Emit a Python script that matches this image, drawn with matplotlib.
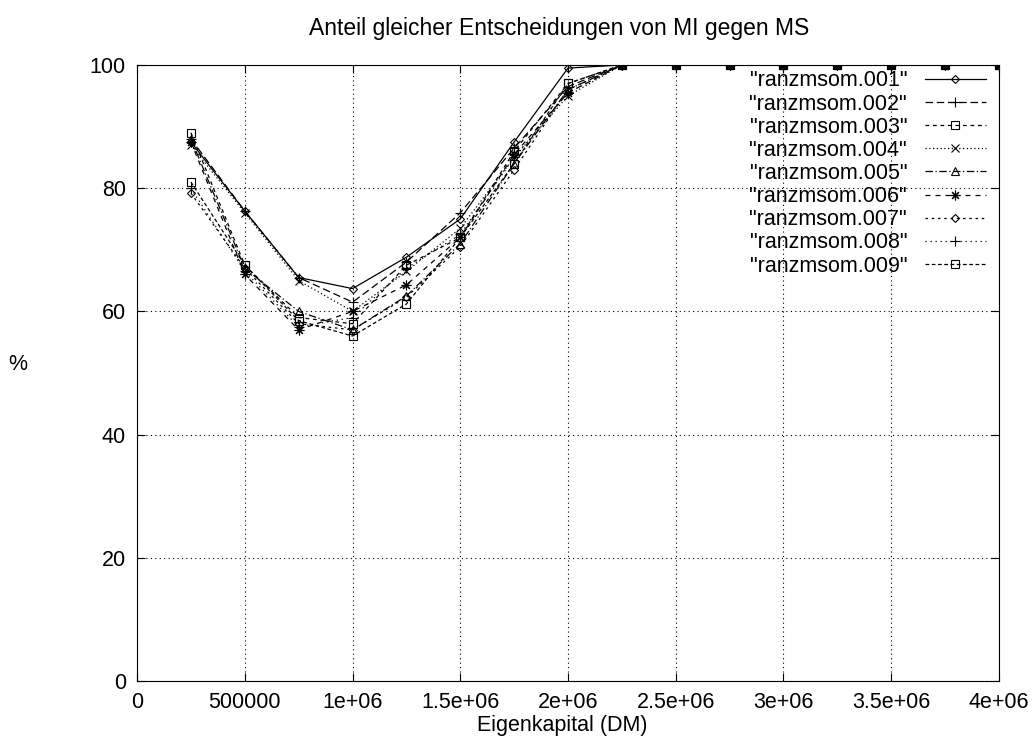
import matplotlib.pyplot as plt

plt.rcParams['font.family'] = ['Liberation Sans', 'DejaVu Sans']

x = [250000, 500000, 750000, 1000000, 1250000, 1500000, 1750000, 2000000,
     2250000, 2500000, 2750000, 3000000, 3250000, 3500000, 3750000, 4000000]

rest = [100] * 8

s001 = [87.5, 76.3, 65.5, 63.7, 68.8, 75.0, 87.5, 99.5] + rest
s002 = [88.0, 76.3, 65.5, 61.5, 68.0, 76.0, 86.5, 96.5] + rest
s003 = [89.0, 67.5, 59.0, 58.0, 67.5, 72.0, 86.0, 97.0] + rest
s004 = [87.0, 76.0, 65.0, 60.0, 66.5, 73.5, 85.0, 95.0] + rest
s005 = [88.0, 67.0, 60.0, 57.0, 62.5, 71.0, 84.0, 96.0] + rest
s006 = [87.5, 66.0, 57.0, 60.0, 64.3, 72.0, 85.5, 95.5] + rest
s007 = [79.2, 67.0, 58.0, 57.0, 62.3, 70.5, 83.0, 96.0] + rest
s008 = [80.0, 66.5, 57.5, 59.0, 67.0, 72.5, 85.0, 95.5] + rest
s009 = [81.0, 67.5, 58.5, 56.0, 61.2, 72.0, 84.0, 97.0] + rest

serien = [s001, s002, s003, s004, s005, s006, s007, s008, s009]
namen = ['"ranzmsom.00%d"' % i for i in range(1, 10)]
marker = ['D', '+', 's', 'x', '^', (8, 2, 0), 'D', '+', 's']
stile = ['-', (0, (6, 3)), (0, (3, 3)), (0, (1, 2)), (0, (6, 2, 1, 2)),
         (0, (4, 4)), (0, (2, 3)), (0, (1, 3)), (0, (3, 2))]
groesse = [4.5, 7, 6, 6, 5.5, 7, 4.5, 7, 6]

fig = plt.figure(figsize=(10.32, 7.36), dpi=100)
ax = fig.add_axes([0.1328, 0.0747, 0.8352, 0.837])

for y, n, m, ls, ms in zip(serien, namen, marker, stile, groesse):
    ax.plot(x, y, color='black', linestyle=ls, linewidth=0.9, marker=m,
            markersize=ms, markerfacecolor='none', markeredgewidth=0.8, label=n)

fs = 15.5
ax.set_xlim(0, 4000000)
ax.set_ylim(0, 100)
ax.set_xticks([0, 500000, 1000000, 1500000, 2000000, 2500000, 3000000, 3500000, 4000000])
ax.set_xticklabels(['0', '500000', '1e+06', '1.5e+06', '2e+06', '2.5e+06', '3e+06', '3.5e+06', '4e+06'])
ax.set_yticks([0, 20, 40, 60, 80, 100])
ax.tick_params(direction='in', top=True, right=True, length=6, labelsize=fs, pad=8)
ax.grid(True, linestyle=(0, (1, 3)), color='black', linewidth=0.8)

fig.text(559 / 1032, 1 - 28 / 736, 'Anteil gleicher Entscheidungen von MI gegen MS',
         fontsize=16.5, ha='center', va='center')
fig.text(562 / 1032, 1 - 725 / 736, 'Eigenkapital (DM)', fontsize=fs,
         ha='center', va='center')
fig.text(18 / 1032, 1 - 365 / 736, '%', fontsize=fs, ha='center', va='center')

ax.legend(loc='upper right', frameon=False, markerfirst=False, fontsize=fs,
          handlelength=2.8, labelspacing=0.1, borderaxespad=0.0,
          handletextpad=0.85, borderpad=0.25,
          bbox_to_anchor=(1 - 8 / 862, 1.0))

plt.savefig('out.png')
